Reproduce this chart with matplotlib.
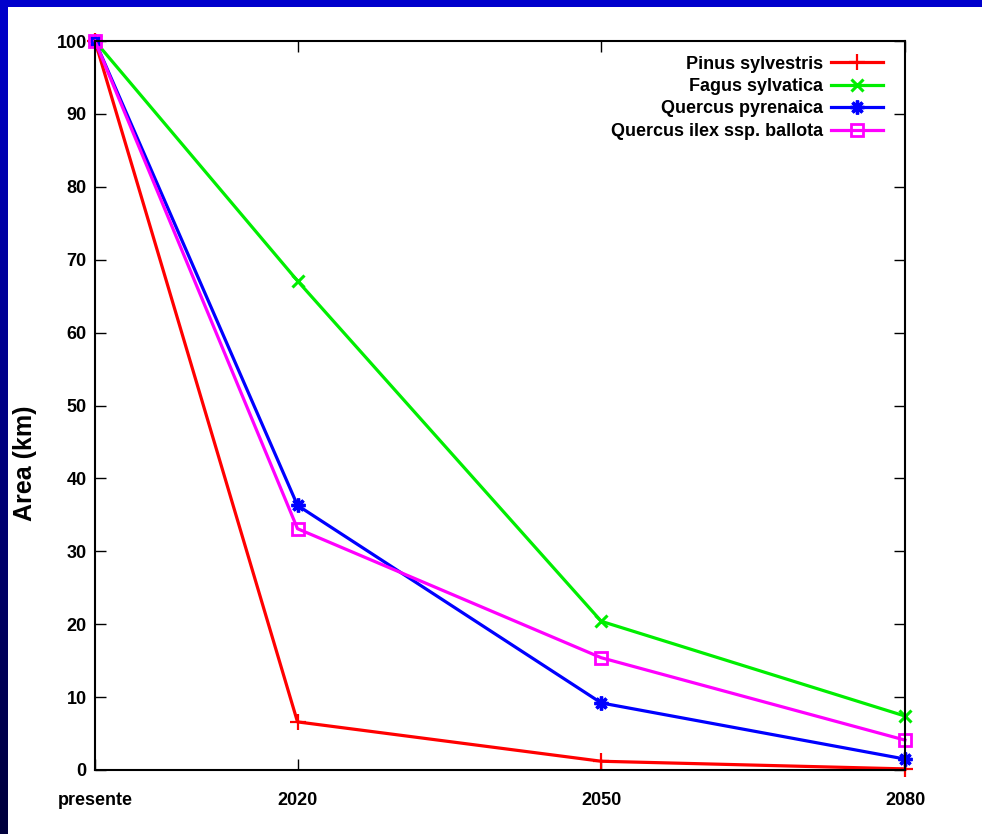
import matplotlib
matplotlib.use('Agg')
import matplotlib.pyplot as plt
import numpy as np

years = [2000, 2020, 2050, 2080]
year_labels = ['presente', '2020', '2050', '2080']
pinus = [100, 6.6, 1.2, 0.15]
fagus = [100, 67.1, 20.4, 7.4]
q_pyr = [100, 36.3, 9.2, 1.5]
q_ilex = [100, 33.1, 15.4, 4.1]

plt.rcParams['font.family'] = ['Liberation Sans Narrow', 'Liberation Sans', 'DejaVu Sans']

fig = plt.figure(figsize=(9.82, 8.34), dpi=100)
fig.patch.set_facecolor('white')

# blue frame: top band and left gradient band
bg = fig.add_axes([0, 0, 1, 1], zorder=-10)
bg.set_axis_off()
grad = np.linspace(0, 1, 256).reshape(-1, 1)
top_col = np.array([0, 0, 204]) / 255.0
bot_col = np.array([0, 0, 60]) / 255.0
img = top_col[None, None, :] * (1 - grad[:, :, None]) + bot_col[None, None, :] * grad[:, :, None]
bg.imshow(img, extent=[0, 8 / 982, 0, 1], aspect='auto', transform=bg.transAxes)
bg.add_patch(plt.Rectangle((0, 1 - 7 / 834), 1, 7 / 834, transform=bg.transAxes,
                           color='#0000cc', lw=0))
bg.set_xlim(0, 1)
bg.set_ylim(0, 1)

ax = fig.add_axes([95 / 982, 64 / 834, 810 / 982, 729 / 834])
lw = 2.3
ax.plot(years, pinus, color='#ff0000', lw=lw, marker='+', ms=11, mew=1.6,
        label='Pinus sylvestris', clip_on=False)
ax.plot(years, fagus, color='#00ee00', lw=lw, marker='x', ms=9, mew=2.2,
        label='Fagus sylvatica', clip_on=False)
ax.plot(years, q_pyr, color='#0000ff', lw=lw, marker=(8, 2, 0), ms=10, mew=2.4,
        label='Quercus pyrenaica', clip_on=False)
ax.plot(years, q_ilex, color='#ff00ff', lw=lw, marker='s', ms=8, mew=2.0,
        mfc='none', label='Quercus ilex ssp. ballota', clip_on=False)

ax.set_xlim(2000, 2080)
ax.set_ylim(0, 100)
ax.set_xticks(years)
ax.set_xticklabels(year_labels)
ax.set_yticks(np.arange(0, 101, 10))
ax.tick_params(direction='in', length=8, width=1, top=True, right=True,
               labelsize=13)
ax.tick_params(axis='x', pad=16)
ax.tick_params(axis='y', pad=6)
for lab in ax.get_xticklabels() + ax.get_yticklabels():
    lab.set_fontweight('bold')
for s in ax.spines.values():
    s.set_linewidth(1.5)

fig.text(25 / 982, 1 - 463 / 834, 'Area (km)', rotation=90, ha='center', va='center',
         fontsize=18, fontweight='bold', family=['Liberation Sans', 'DejaVu Sans'])

leg = ax.legend(loc='upper right', bbox_to_anchor=(0.973, 0.980), frameon=False,
                markerfirst=False, handlelength=2.9, handletextpad=0.45,
                labelspacing=0.3, borderaxespad=0, borderpad=0,
                prop={'weight': 'bold', 'size': 13})

fig.savefig('out.png', dpi=100)
